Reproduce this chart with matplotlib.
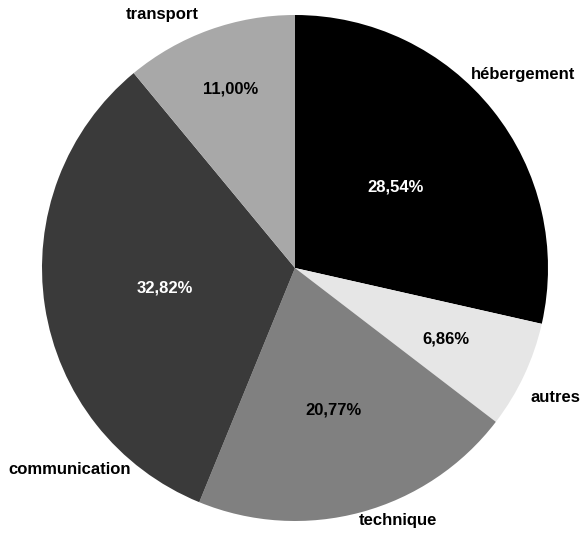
import numpy as np
import matplotlib.pyplot as plt

plt.rcParams['font.family'] = ['Liberation Sans', 'DejaVu Sans']

labels = ['hébergement', 'autres', 'technique', 'communication', 'transport']
values = [28.54, 6.86, 20.77, 32.82, 11.00]
colors = ['#000000', '#e6e6e6', '#808080', '#3a3a3a', '#a8a8a8']
pct_colors = ['white', 'black', 'black', 'white', 'black']

# pie centre / radius in pixels of the 580x536 picture
cx, cy, R = 295, 268, 253
W, H = 580, 536

fig = plt.figure(figsize=(W / 100, H / 100), dpi=100)
ax = fig.add_axes([0, 0, 1, 1])

wedges, _ = ax.pie(values, colors=colors, startangle=90, counterclock=False,
                   radius=1, wedgeprops=dict(linewidth=0))

# pie() resets the limits, so set them afterwards
ax.set_aspect('auto')
ax.set_xlim(-cx / R, (W - cx) / R)
ax.set_ylim(-(H - cy) / R, cy / R)
ax.axis('off')

# radial distance of the percentage text inside each wedge
pct_r = [0.51, 0.66, 0.58, 0.52, 0.75]
for w, v, r, c in zip(wedges, values, pct_r, pct_colors):
    a = np.deg2rad((w.theta1 + w.theta2) / 2)
    ax.text(r * np.cos(a), r * np.sin(a), f'{v:.2f}%'.replace('.', ','),
            ha='center', va='center', color=c, fontsize=12, fontweight='bold')

# outer category labels (pixel positions from the picture)
label_px = [(523, 74), (555, 398), (398, 521), (70, 470), (162, 14)]
for lab, (px, py) in zip(labels, label_px):
    ax.text((px - cx) / R, (cy - py) / R, lab, ha='center', va='center',
            fontsize=12, fontweight='bold')

fig.savefig('out.png', dpi=100)
